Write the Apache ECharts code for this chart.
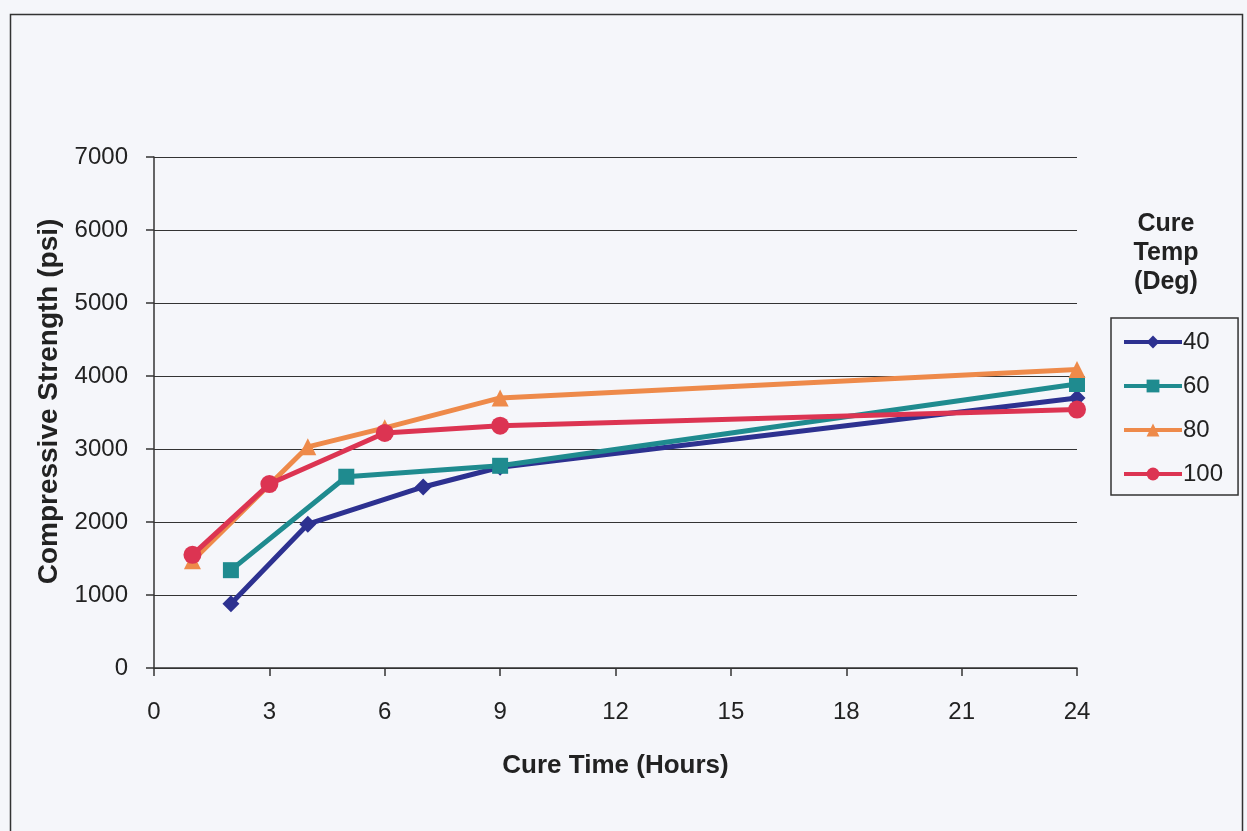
<!DOCTYPE html>
<html lang="en">
<head>
    <meta charset="UTF-8">
    <title>Compressive strength vs cure time</title>
    <style>
        html, body { margin: 0; padding: 0; background: #f5f6fa; }
        #chart { width: 1247px; height: 831px; }
    </style>
</head>
<body>
    <div id="chart"></div>
    <script src="https://cdn.jsdelivr.net/npm/echarts@6.0.0/dist/echarts.min.js"></script>
    <script>
        // cure time (hours) / compressive strength (psi)
        const hours40 = [2, 4, 7, 9, 24];
        const psi40 = [880, 1970, 2480, 2750, 3700];
        const hours60 = [2, 5, 9, 24];
        const psi60 = [1340, 2620, 2770, 3890];
        const hours80 = [1, 4, 6, 9, 24];
        const psi80 = [1470, 3030, 3290, 3700, 4090];
        const hours100 = [1, 3, 6, 9, 24];
        const psi100 = [1550, 2520, 3220, 3320, 3540];

        const seriesNames = ['40', '60', '80', '100'];
        const seriesColors = ['#2d3190', '#1f8b8f', '#ee8a4a', '#dc3452'];
        const seriesSymbols = ['diamond', 'rect', 'triangle', 'circle'];
        const seriesSizes = [17, 16, 17, 18];

        function pairs(xs, ys) {
            return xs.map(function (x, i) { return [x, ys[i]]; });
        }

        const allData = [pairs(hours40, psi40), pairs(hours60, psi60), pairs(hours80, psi80), pairs(hours100, psi100)];

        const font = 'Liberation Sans, Arial, sans-serif';

        let option = {
            backgroundColor: '#f5f6fa',
            animation: false,
            textStyle: { fontFamily: font },
            grid: { left: 154, right: 170, top: 157, bottom: 163 },
            graphic: [
                {
                    type: 'rect', left: 8, top: 12,
                    shape: { width: 1232, height: 830 },
                    style: { fill: 'none', stroke: '#333', lineWidth: 1.5 }
                },
                {
                    type: 'text', left: 1126, top: 210,
                    style: {
                        text: 'Cure\nTemp\n(Deg)', fill: '#222', font: 'bold 25px ' + font,
                        textAlign: 'center', lineHeight: 29, width: 80
                    }
                }
            ],
            legend: {
                orient: 'vertical', left: 1111, top: 318,
                padding: [12, 15, 9, 11],
                borderColor: '#333', borderWidth: 1.5,
                itemWidth: 58, itemHeight: 16, itemGap: 20,
                lineStyle: { width: 4 },
                textStyle: { fontSize: 24, color: '#222', fontFamily: font, padding: [0, 0, 0, -4] },
                data: seriesNames
            },
            xAxis: {
                type: 'value', min: 0, max: 24, interval: 3,
                name: 'Cure Time (Hours)', nameLocation: 'middle', nameGap: 85,
                nameTextStyle: { fontSize: 26, fontWeight: 'bold', color: '#222' },
                axisLine: { lineStyle: { color: '#333', width: 1.5 } },
                axisTick: { show: true, length: 8, lineStyle: { color: '#333', width: 1.5 } },
                axisLabel: { fontSize: 24, color: '#222', margin: 32 },
                splitLine: { show: false }
            },
            yAxis: {
                type: 'value', min: 0, max: 7000, interval: 1000,
                name: 'Compressive Strength (psi)', nameLocation: 'middle', nameGap: 90,
                nameTextStyle: { fontSize: 28, fontWeight: 'bold', color: '#222', padding: [0, 0, 0, 22] },
                axisLine: { show: true, lineStyle: { color: '#333', width: 1.5 } },
                axisTick: { show: true, length: 8, lineStyle: { color: '#333', width: 1.5 } },
                axisLabel: { fontSize: 24, color: '#222', margin: 26, formatter: function (v) { return String(v); } },
                splitLine: { show: true, lineStyle: { color: '#333', width: 1.2 } }
            },
            series: seriesNames.map(function (name, i) {
                return {
                    name: name, type: 'line', data: allData[i],
                    symbol: seriesSymbols[i], symbolSize: seriesSizes[i],
                    showAllSymbol: true,
                    color: seriesColors[i],
                    lineStyle: { width: 5, color: seriesColors[i] },
                    itemStyle: { color: seriesColors[i] }
                };
            })
        };

        let myChart = echarts.init(document.getElementById('chart'));
        myChart.setOption(option);
    </script>
</body>
</html>
